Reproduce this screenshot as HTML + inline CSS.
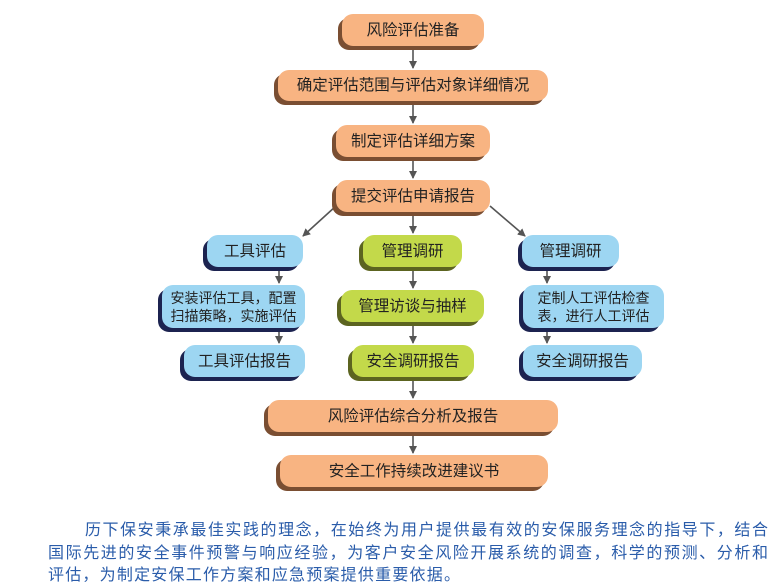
<!DOCTYPE html>
<html><head><meta charset="utf-8"><style>
body{margin:0;width:778px;height:588px;background:#fff;position:relative;overflow:hidden;font-family:"Liberation Sans","Noto Sans CJK SC",sans-serif}
.b{position:absolute;display:flex;align-items:center;justify-content:center;text-align:center;border-radius:11px;font-size:15.5px;color:#222;box-sizing:border-box;line-height:19px}
.o{background:#f8b482;box-shadow:-4px 4px 0 #7a4e32}
.u{background:#9dd6f2;box-shadow:-4px 4px 0 #1c2350}
.g{background:#c3d94a;box-shadow:-4px 4px 0 #5c6420}
.s{font-size:14px;line-height:18px}
.t{position:absolute;font-size:16px;color:#2a5caa;white-space:nowrap;text-align:justify;text-align-last:justify;text-justify:inter-character;font-family:"Liberation Sans","Noto Sans CJK SC",sans-serif}
svg{position:absolute;left:0;top:0}
</style></head><body>
<svg width="778" height="588">
<defs><marker id="a" markerWidth="8" markerHeight="8" refX="7" refY="4" orient="auto" markerUnits="userSpaceOnUse"><path d="M0,0 L8,4 L0,8 Z" fill="#555"/></marker></defs>
<g stroke="#555" stroke-width="1.6" marker-end="url(#a)">
<line x1="413" y1="46" x2="413" y2="68"/>
<line x1="413" y1="101" x2="413" y2="123"/>
<line x1="413" y1="157" x2="413" y2="178"/>
<line x1="413" y1="212" x2="413" y2="233"/>
<line x1="336" y1="206" x2="303" y2="236"/>
<line x1="490" y1="206" x2="525" y2="236"/>
<line x1="279" y1="267" x2="279" y2="283"/>
<line x1="279" y1="328" x2="279" y2="343"/>
<line x1="413" y1="267" x2="413" y2="288"/>
<line x1="413" y1="322" x2="413" y2="343"/>
<line x1="413" y1="377" x2="413" y2="398"/>
<line x1="413" y1="432" x2="413" y2="453"/>
<line x1="547" y1="267" x2="547" y2="283"/>
<line x1="547" y1="328" x2="547" y2="343"/>
</g></svg>
<div class="b o" style="left:342px;top:14px;width:142px;height:32px">风险评估准备</div>
<div class="b o" style="left:278px;top:70px;width:270px;height:31px">确定评估范围与评估对象详细情况</div>
<div class="b o" style="left:336px;top:125px;width:154px;height:32px">制定评估详细方案</div>
<div class="b o" style="left:336px;top:180px;width:154px;height:32px">提交评估申请报告</div>
<div class="b u" style="left:207px;top:235px;width:96px;height:32px">工具评估</div>
<div class="b g" style="left:363px;top:235px;width:99px;height:32px">管理调研</div>
<div class="b u" style="left:522px;top:235px;width:97px;height:32px">管理调研</div>
<div class="b u s" style="left:162px;top:285px;width:143px;height:43px">安装评估工具，配置<br>扫描策略，实施评估</div>
<div class="b g" style="left:341px;top:290px;width:143px;height:32px">管理访谈与抽样</div>
<div class="b u s" style="left:523px;top:285px;width:141px;height:43px">定制人工评估检查<br>表，进行人工评估</div>
<div class="b u" style="left:184px;top:345px;width:121px;height:32px">工具评估报告</div>
<div class="b g" style="left:352px;top:345px;width:122px;height:32px">安全调研报告</div>
<div class="b u" style="left:523px;top:345px;width:119px;height:32px">安全调研报告</div>
<div class="b o" style="left:268px;top:400px;width:290px;height:32px">风险评估综合分析及报告</div>
<div class="b o" style="left:280px;top:455px;width:268px;height:32px">安全工作持续改进建议书</div>
<div class="t" style="left:85px;top:516px;width:683px">历下保安秉承最佳实践的理念，在始终为用户提供最有效的安保服务理念的指导下，结合</div>
<div class="t" style="left:48px;top:539px;width:720px">国际先进的安全事件预警与响应经验，为客户安全风险开展系统的调查，科学的预测、分析和</div>
<div class="t" style="left:48px;top:561px;width:412px">评估，为制定安保工作方案和应急预案提供重要依据。</div>
</body></html>
